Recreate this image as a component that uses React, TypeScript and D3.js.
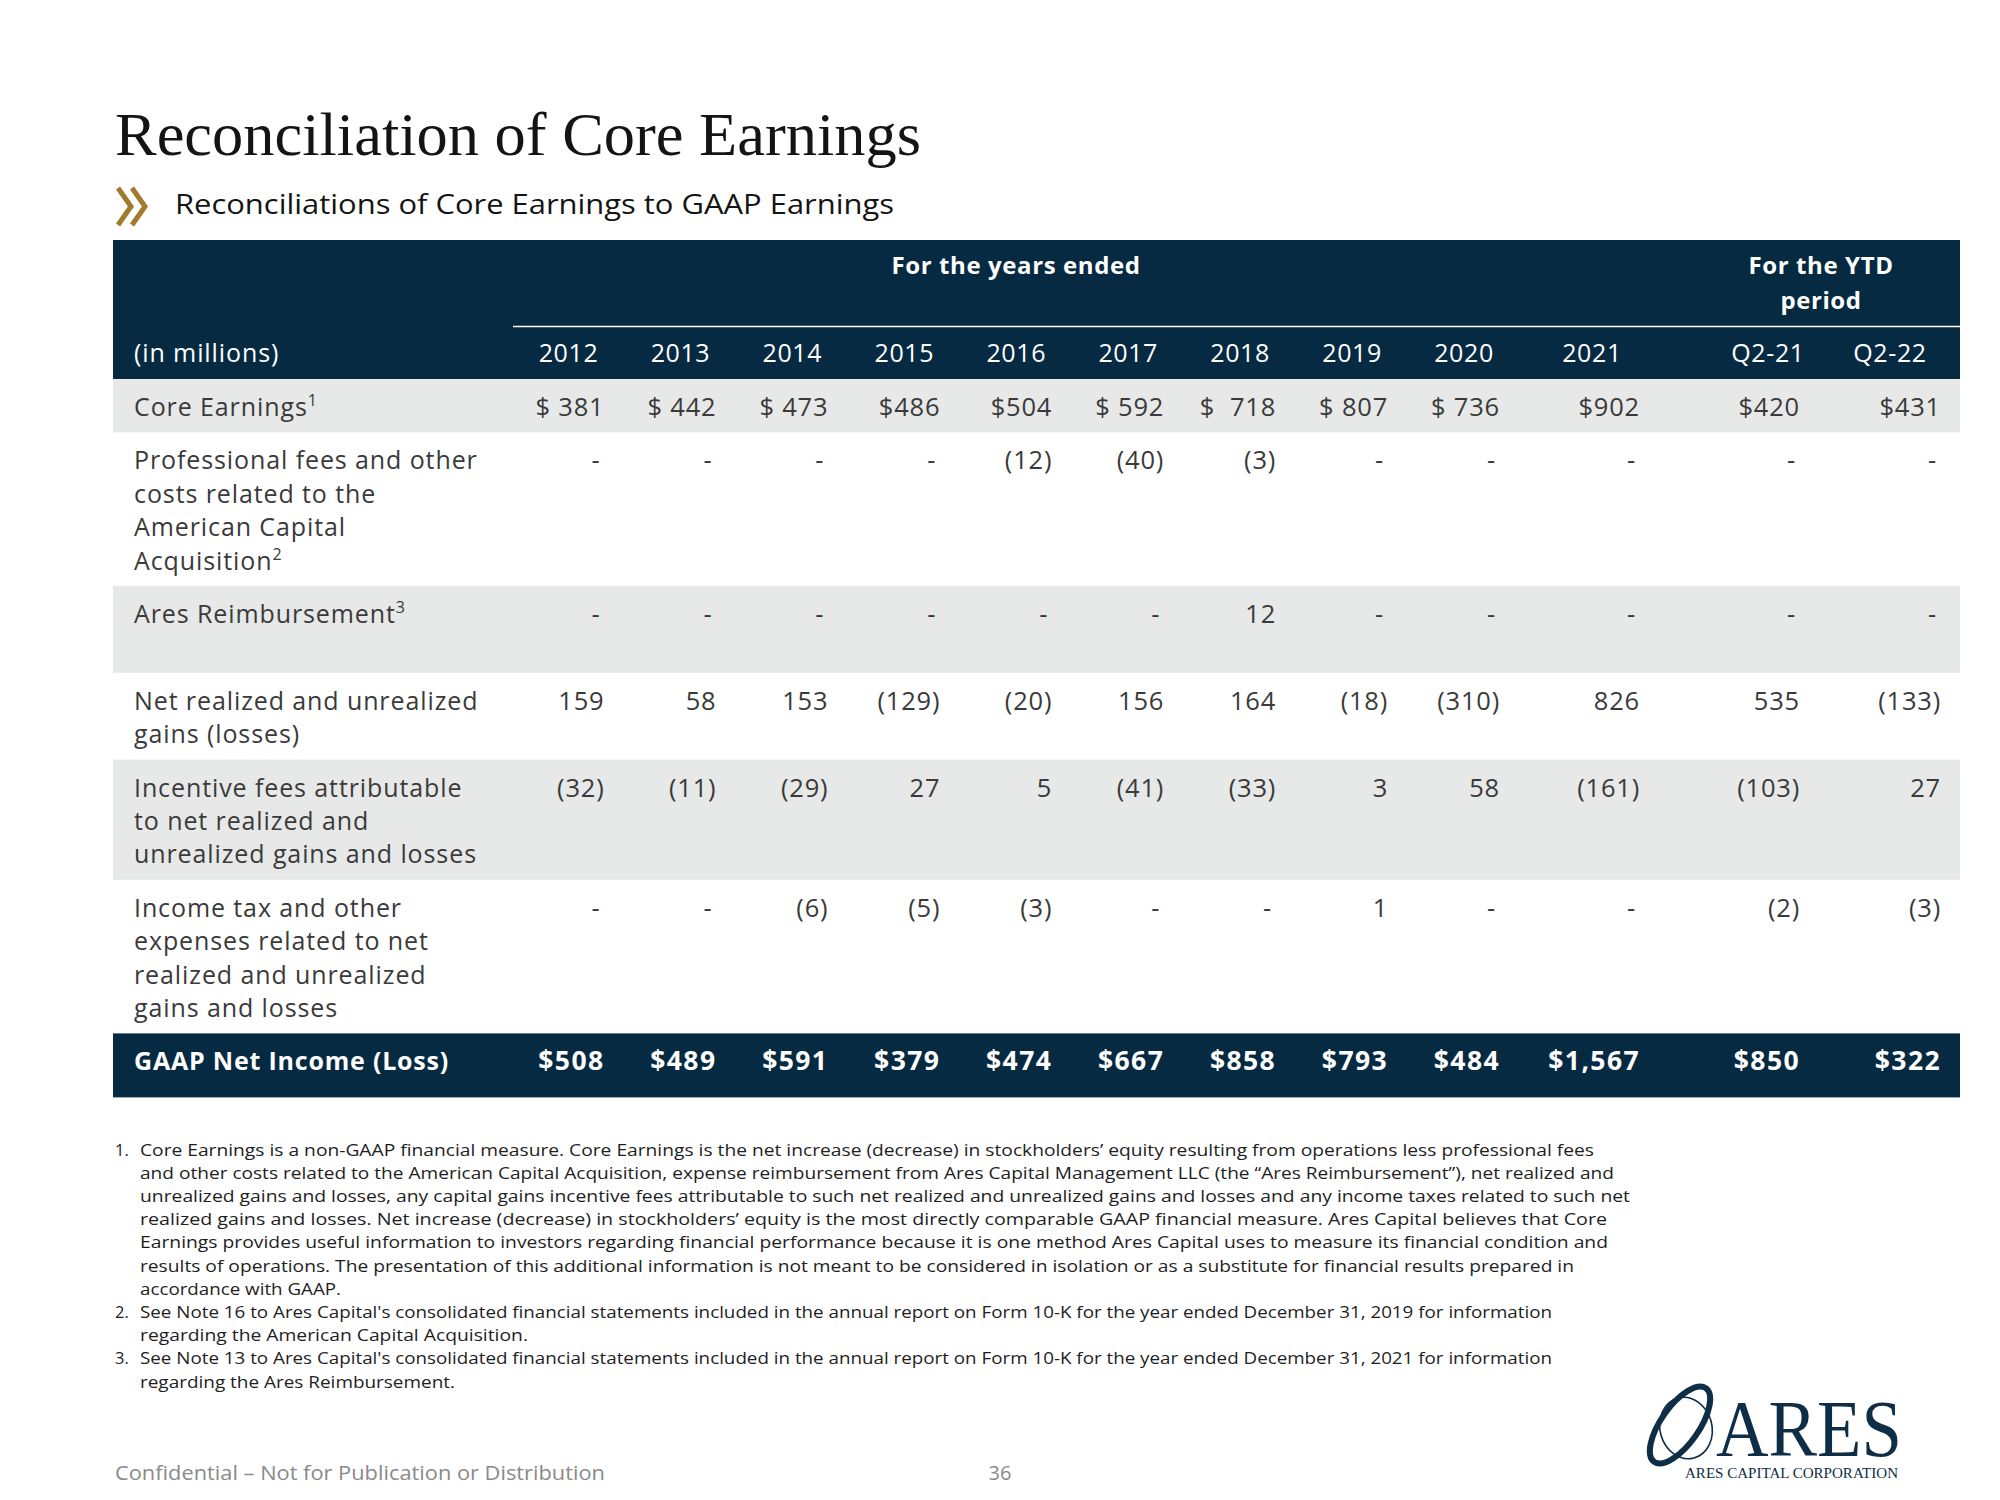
import React from "react";
import * as d3 from "d3";

// ---------- DATA ----------
const columns = ["2012", "2013", "2014", "2015", "2016", "2017", "2018", "2019", "2020", "2021", "Q2-21", "Q2-22"];
const coreEarnings = [381, 442, 473, 486, 504, 592, 718, 807, 736, 902, 420, 431];
const coreDollarGap = [" ", " ", " ", "", "", " ", "  ", " ", " ", "", "", ""];
const professionalFees = [null, null, null, null, -12, -40, -3, null, null, null, null, null];
const aresReimbursement = [null, null, null, null, null, null, 12, null, null, null, null, null];
const netRealizedGains = [159, 58, 153, -129, -20, 156, 164, -18, -310, 826, 535, -133];
const incentiveFees = [-32, -11, -29, 27, 5, -41, -33, 3, 58, -161, -103, 27];
const incomeTaxOther = [null, null, -6, -5, -3, null, null, 1, null, null, -2, -3];
const gaapNetIncome = [508, 489, 591, 379, 474, 667, 858, 793, 484, 1567, 850, 322];

const rowLabels = [
  ["Core Earnings"],
  ["Professional fees and other", "costs related to the", "American Capital", "Acquisition"],
  ["Ares Reimbursement", ""],
  ["Net realized and unrealized", "gains (losses)"],
  ["Incentive fees attributable", "to net realized and", "unrealized gains and losses"],
  ["Income tax and other", "expenses related to net", "realized and unrealized", "gains and losses"],
];
const rowSups = ["1", "2", "3", "", "", ""];
const rowShaded = [true, false, true, false, true, false];

const footnotes = [
  [
    "Core Earnings is a non-GAAP financial measure. Core Earnings is the net increase (decrease) in stockholders’ equity resulting from operations less professional fees",
    "and other costs related to the American Capital Acquisition, expense reimbursement from Ares Capital Management LLC (the “Ares Reimbursement”), net realized and",
    "unrealized gains and losses, any capital gains incentive fees attributable to such net realized and unrealized gains and losses and any income taxes related to such net",
    "realized gains and losses. Net increase (decrease) in stockholders’ equity is the most directly comparable GAAP financial measure. Ares Capital believes that Core",
    "Earnings provides useful information to investors regarding financial performance because it is one method Ares Capital uses to measure its financial condition and",
    "results of operations. The presentation of this additional information is not meant to be considered in isolation or as a substitute for financial results prepared in",
    "accordance with GAAP.",
  ],
  [
    "See Note 16 to Ares Capital's consolidated financial statements included in the annual report on Form 10-K for the year ended December 31, 2019 for information",
    "regarding the American Capital Acquisition.",
  ],
  [
    "See Note 13 to Ares Capital's consolidated financial statements included in the annual report on Form 10-K for the year ended December 31, 2021 for information",
    "regarding the Ares Reimbursement.",
  ],
];

// ---------- LAYOUT ----------
const NAVY = "#062a41";
const GRAY = "#e7e8e8";
const TEXT = "#3a3a3a";
const GOLD = "#a27a2c";
const SANS = "'Open Sans', 'DejaVu Sans', sans-serif";
const SERIF = "'Liberation Serif', 'DejaVu Serif', serif";

const TABLE_L = 113;
const TABLE_R = 1960;
const HEADER_TOP = 240;
const HEADER_BOTTOM = 379;
const LINE_H = 33.4;
const LABEL_X = 134;

// right edges of value columns: evenly spaced years, then wider later columns
const yearScale = d3.scalePoint<string>().domain(columns.slice(0, 9)).range([604.5, 1500]);
const extraRight = [1640, 1800, 1941];
const colRight = (i: number) => (i < 9 ? (yearScale(columns[i]) as number) : extraRight[i - 9]);
const headerCenterOffset = [-36, -36, -36, -36, -36, -36, -36, -36, -36, -48, -32, -51];

const fmt = d3.format(",");
const fmtVal = (v: number | null) => (v == null ? "-" : v < 0 ? `(${fmt(-v)})` : fmt(v));

const bodyRows = [coreEarnings, professionalFees, aresReimbursement, netRealizedGains, incentiveFees, incomeTaxOther];

export default function App() {
  const heights = rowLabels.map((l) => l.length * LINE_H + 20);
  const tops: number[] = [];
  let acc = HEADER_BOTTOM;
  heights.forEach((h) => {
    tops.push(acc);
    acc += h;
  });
  const gaapTop = acc;
  const gaapBottom = gaapTop + 64;

  const fnLineWidths = [
    [1454, 1474, 1490, 1467, 1468, 1434, 201],
    [1412, 388],
    [1412, 315],
  ];
  let fnY = 1155.5;
  const fnItems: { num: string | null; text: string; y: number; w: number }[] = [];
  footnotes.forEach((lines, fi) => {
    lines.forEach((t, li) => {
      fnItems.push({ num: li === 0 ? `${fi + 1}.` : null, text: t, y: fnY, w: fnLineWidths[fi][li] });
      fnY += 23.2;
    });
  });

  return (
    <svg
      width={2000}
      height={1500}
      viewBox="0 0 2000 1500"
      style={{ position: "absolute", left: 0, top: 0, display: "block", background: "#fff" }}
    >
      <rect x={0} y={0} width={2000} height={1500} fill="#fff" />
      {/* Title */}
      <text x={115} y={155} fontFamily={SERIF} fontSize={62} fill="#141414" textLength={806} lengthAdjust="spacingAndGlyphs">
        Reconciliation of Core Earnings
      </text>
      {/* chevrons */}
      <g fill="none" stroke={GOLD} strokeWidth={5} strokeLinecap="butt">
        <polyline points="118,188 131,206.5 118,225" />
        <polyline points="132,188 145,206.5 132,225" />
      </g>
      <text x={175} y={214} fontFamily={SANS} fontSize={27} fill="#141414" textLength={719} lengthAdjust="spacingAndGlyphs">
        Reconciliations of Core Earnings to GAAP Earnings
      </text>

      {/* Header */}
      <rect x={TABLE_L} y={HEADER_TOP} width={TABLE_R - TABLE_L} height={HEADER_BOTTOM - HEADER_TOP} fill={NAVY} />
      <text x={1016} y={274} textAnchor="middle" fontFamily={SANS} fontWeight={700} fontSize={24} fill="#fff" letterSpacing={0.6}>
        For the years ended
      </text>
      <text x={1821} y={274} textAnchor="middle" fontFamily={SANS} fontWeight={700} fontSize={24} fill="#fff" letterSpacing={0.6}>
        For the YTD
      </text>
      <text x={1821} y={309} textAnchor="middle" fontFamily={SANS} fontWeight={700} fontSize={24} fill="#fff" letterSpacing={0.6}>
        period
      </text>
      <line x1={513} x2={TABLE_R} y1={326.5} y2={326.5} stroke="#fff" strokeWidth={1.5} />
      <text x={LABEL_X} y={362} fontFamily={SANS} fontSize={25} fill="#fff" letterSpacing={0.9}>
        (in millions)
      </text>
      {columns.map((c, i) => (
        <text key={c} x={colRight(i) + headerCenterOffset[i]} y={362} textAnchor="middle" fontFamily={SANS} fontSize={25} fill="#fff" letterSpacing={0.6}>
          {c}
        </text>
      ))}

      {/* Body rows */}
      {rowLabels.map((lines, r) => (
        <g key={r}>
          {rowShaded[r] && <rect x={TABLE_L} y={tops[r]} width={TABLE_R - TABLE_L} height={heights[r]} fill={GRAY} />}
          {lines.map((ln, li) => (
            <text key={li} x={LABEL_X} y={tops[r] + 37 + li * LINE_H} fontFamily={SANS} fontSize={25} fill={TEXT} letterSpacing={0.9}>
              {ln}
              {li === lines.filter((s) => s !== "").length - 1 && rowSups[r] !== "" && (
                <tspan fontSize={16} dy={-10}>
                  {rowSups[r]}
                </tspan>
              )}
            </text>
          ))}
          {bodyRows[r].map((v, i) => {
            const isCore = r === 0;
            const label = isCore ? `$${coreDollarGap[i]}${fmt(v as number)}` : fmtVal(v as number | null);
            const isDash = v == null;
            return (
              <text
                key={i}
                x={colRight(i) - (isDash ? 4 : 0)}
                y={tops[r] + 37}
                textAnchor="end"
                fontFamily={SANS}
                fontSize={25.5}
                fill={TEXT}
                letterSpacing={0.8}
                style={{ whiteSpace: "pre" }}
              >
                {label}
              </text>
            );
          })}
        </g>
      ))}

      {/* GAAP row */}
      <rect x={TABLE_L} y={gaapTop} width={TABLE_R - TABLE_L} height={gaapBottom - gaapTop} fill={NAVY} />
      <text x={LABEL_X} y={gaapTop + 37} fontFamily={SANS} fontWeight={700} fontSize={25} fill="#fff" letterSpacing={0.8}>
        GAAP Net Income (Loss)
      </text>
      {gaapNetIncome.map((v, i) => (
        <text key={i} x={colRight(i)} y={gaapTop + 37} textAnchor="end" fontFamily={SANS} fontWeight={700} fontSize={26.5} fill="#fff" letterSpacing={1.4}>
          {`$${fmt(v)}`}
        </text>
      ))}

      {/* Footnotes */}
      {fnItems.map((f, k) => (
        <g key={k}>
          {f.num && (
            <text x={115} y={f.y} fontFamily={SANS} fontSize={16.5} fill="#1e1e1e">
              {f.num}
            </text>
          )}
          <text x={140} y={f.y} fontFamily={SANS} fontSize={16.5} fill="#1e1e1e" textLength={f.w} lengthAdjust="spacingAndGlyphs">
            {f.text}
          </text>
        </g>
      ))}

      {/* Footer */}
      <text x={115} y={1480} fontFamily={SANS} fontSize={20} fill="#8a8a8a" textLength={490} lengthAdjust="spacingAndGlyphs">
        Confidential – Not for Publication or Distribution
      </text>
      <text x={1000} y={1480} textAnchor="middle" fontFamily={SANS} fontSize={20} fill="#8a8a8a">
        36
      </text>

      {/* Logo */}
      <g>
        <ellipse cx={1680} cy={1425} rx={45} ry={19} transform="rotate(-55 1680 1425)" fill="none" stroke="#0e2d46" strokeWidth={6} />
        <ellipse cx={1686} cy={1428} rx={26} ry={31} transform="rotate(-15 1686 1428)" fill="none" stroke="#0e2d46" strokeWidth={1.6} />
        <text x={1716} y={1456} fontFamily={SERIF} fontSize={80} fill="#0e2d46" textLength={186} lengthAdjust="spacingAndGlyphs">
          ARES
        </text>
        <text x={1685} y={1478} fontFamily={SERIF} fontSize={14} fill="#0e2d46" textLength={213} lengthAdjust="spacingAndGlyphs">
          ARES CAPITAL CORPORATION
        </text>
      </g>
    </svg>
  );
}
